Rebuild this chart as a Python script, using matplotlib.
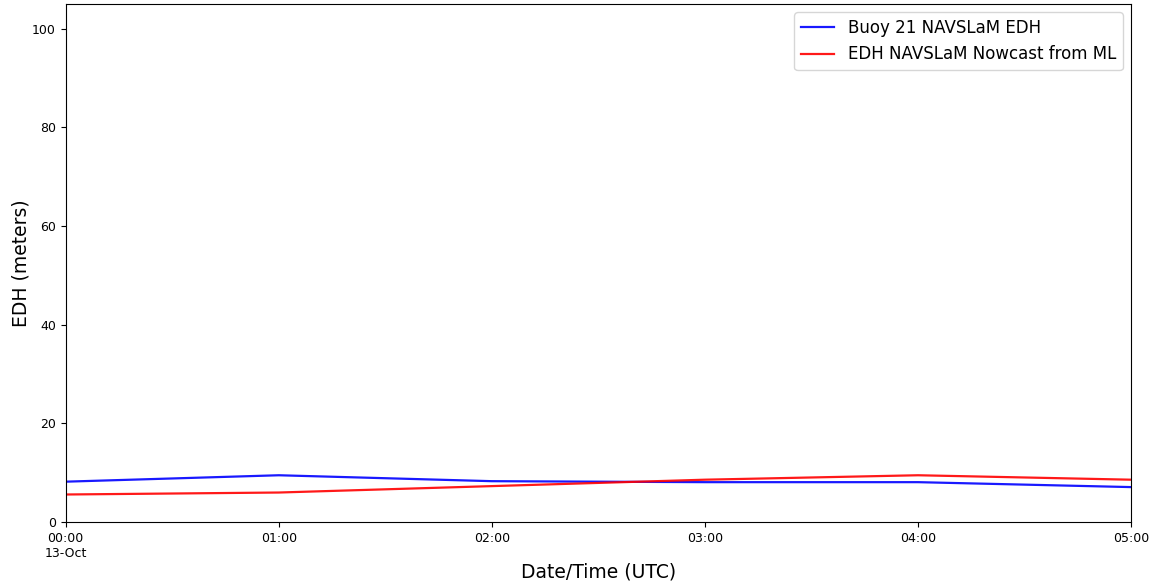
import matplotlib
matplotlib.use('Agg')
import matplotlib.pyplot as plt
import matplotlib.dates as mdates
import pandas as pd

# times (UTC) and EDH values
times = pd.to_datetime(['2021-10-13 00:00', '2021-10-13 01:00', '2021-10-13 02:00',
                        '2021-10-13 03:00', '2021-10-13 04:00', '2021-10-13 05:00'])
buoy_edh = [8.2, 9.5, 8.3, 8.1, 8.1, 7.1]
ml_edh = [5.6, 6.0, 7.3, 8.6, 9.5, 8.6]

fig, ax = plt.subplots(figsize=(11.53, 5.86), dpi=100)
fig.subplots_adjust(left=0.057, right=0.981, top=0.993, bottom=0.109)

ax.plot(times, buoy_edh, color='blue', linewidth=1.6, alpha=0.9, label='Buoy 21 NAVSLaM EDH')
ax.plot(times, ml_edh, color='red', linewidth=1.6, alpha=0.9, label='EDH NAVSLaM Nowcast from ML')

ax.set_xlim(times[0], times[-1])
ax.set_ylim(0, 105)
ax.xaxis.set_major_locator(mdates.HourLocator())

def fmt(x, pos):
    d = mdates.num2date(x)
    s = d.strftime('%H:%M')
    if pos == 0:
        s += '\n' + d.strftime('%d-%b')
    return s

ax.xaxis.set_major_formatter(plt.FuncFormatter(fmt))
ax.tick_params(labelsize=9)

ax.set_xlabel('Date/Time (UTC)', fontsize=13.5, labelpad=2)
ax.set_ylabel('EDH (meters)', fontsize=13.5, labelpad=1)
ax.legend(fontsize=12, loc='upper right')

fig.savefig('out.png')
